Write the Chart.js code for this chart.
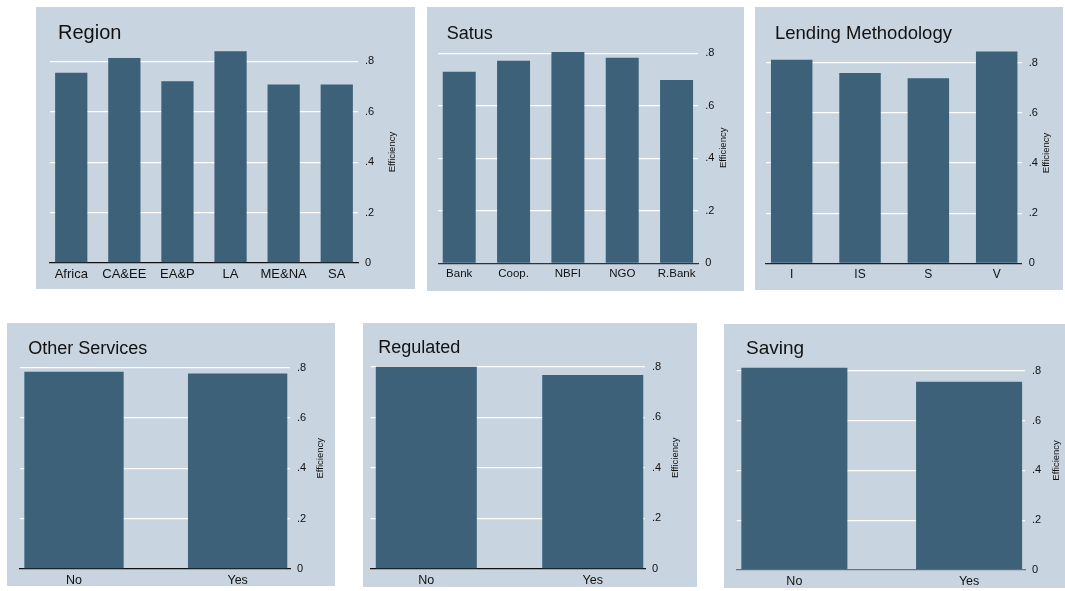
<!DOCTYPE html>
<html>
<head>
<meta charset="utf-8">
<script src="https://cdn.jsdelivr.net/npm/chart.js@4.4.1/dist/chart.umd.min.js"></script>
<style>
  html, body { margin: 0; padding: 0; background: #ffffff; }
  body { width: 1065px; height: 591px; position: relative; overflow: hidden; }
  canvas { position: absolute; background: #c8d4e0; }
</style>
</head>
<body>
<canvas id="c1"></canvas>
<canvas id="c2"></canvas>
<canvas id="c3"></canvas>
<canvas id="c4"></canvas>
<canvas id="c5"></canvas>
<canvas id="c6"></canvas>
<script>
// ---------------- DATA ----------------
const regionCats = ['Africa', 'CA&EE', 'EA&P', 'LA', 'ME&NA', 'SA'];
const regionVals = [0.755, 0.813, 0.721, 0.840, 0.708, 0.708];

const statusCats = ['Bank', 'Coop.', 'NBFI', 'NGO', 'R.Bank'];
const statusVals = [0.730, 0.772, 0.805, 0.783, 0.698];

const lendingCats = ['I', 'IS', 'S', 'V'];
const lendingVals = [0.812, 0.759, 0.738, 0.845];

const otherCats = ['No', 'Yes'];
const otherVals = [0.784, 0.777];

const regulatedCats = ['No', 'Yes'];
const regulatedVals = [0.800, 0.767];

const savingCats = ['No', 'Yes'];
const savingVals = [0.812, 0.756];

const yTickValues = [0, 0.2, 0.4, 0.6, 0.8];
const yTickLabels = ['0', '.2', '.4', '.6', '.8'];
const yAxisTitle = 'Efficiency';

// ---------------- STYLE / LAYOUT ----------------
const BAR = '#3d6179';
const FONT = "'Liberation Sans', Arial, sans-serif";
const YMAX = 0.88;

const panels = [
  { id: 'c1', title: 'Region', cats: regionCats, vals: regionVals,
    box: { x: 36, y: 7, w: 379, h: 282 }, plot: { l: 50, r: 358, base: 263, y08: 61.3 },
    xr: [-0.4, 5.4], titlePos: [58, 39], titleSize: 20, xFont: 13, effX: 392, base: '#111' },
  { id: 'c2', title: 'Satus', cats: statusCats, vals: statusVals,
    box: { x: 427, y: 7, w: 317, h: 284 }, plot: { l: 438.3, r: 698.3, base: 263.3, y08: 53.3 },
    xr: [-0.385, 4.4], titlePos: [446.7, 39], titleSize: 18, xFont: 11.5, effX: 723, base: '#333' },
  { id: 'c3', title: 'Lending Methodology', cats: lendingCats, vals: lendingVals,
    box: { x: 755, y: 7, w: 308, h: 283 }, plot: { l: 766, r: 1021.7, base: 263.3, y08: 62.7 },
    xr: [-0.376, 3.366], titlePos: [775, 38.5], titleSize: 18.5, xFont: 12, effX: 1046.7, base: '#222' },
  { id: 'c4', title: 'Other Services', cats: otherCats, vals: otherVals,
    box: { x: 7, y: 323, w: 328, h: 263 }, plot: { l: 20, r: 290, base: 569, y08: 367.7 },
    xr: [-0.33, 1.32], titlePos: [28.3, 354], titleSize: 18, xFont: 12.5, effX: 320, base: '#111' },
  { id: 'c5', title: 'Regulated', cats: regulatedCats, vals: regulatedVals,
    box: { x: 363, y: 323, w: 334, h: 264 }, plot: { l: 370.7, r: 645, base: 569, y08: 366.7 },
    xr: [-0.334, 1.314], titlePos: [378.3, 353.3], titleSize: 18, xFont: 12.5, effX: 675, base: '#111' },
  { id: 'c6', title: 'Saving', cats: savingCats, vals: savingVals,
    box: { x: 724, y: 324, w: 341, h: 264 }, plot: { l: 736.7, r: 1025, base: 570, y08: 370.7 },
    xr: [-0.33, 1.32], titlePos: [746, 354.3], titleSize: 19, xFont: 12.5, effX: 1056.7, base: '#6b757c' }
];

const panelTextPlugin = {
  id: 'panelText',
  afterDraw(chart, args, opts) {
    const ctx = chart.ctx;
    ctx.save();
    ctx.fillStyle = '#111';
    ctx.font = opts.titleSize + 'px ' + FONT;
    ctx.textAlign = 'left';
    ctx.textBaseline = 'alphabetic';
    ctx.fillText(opts.title, opts.titleX, opts.titleY);
    const ca = chart.chartArea;
    ctx.translate(opts.effX, (ca.top + ca.bottom) / 2);
    ctx.rotate(-Math.PI / 2);
    ctx.font = '9.5px ' + FONT;
    ctx.textAlign = 'center';
    ctx.textBaseline = 'middle';
    ctx.fillText(opts.axisTitle, 0, 0);
    ctx.restore();
  }
};

panels.forEach(p => {
  const cv = document.getElementById(p.id);
  cv.width = p.box.w; cv.height = p.box.h;
  cv.style.left = p.box.x + 'px'; cv.style.top = p.box.y + 'px';
  cv.style.width = p.box.w + 'px'; cv.style.height = p.box.h + 'px';
  const unit = (p.plot.base - p.plot.y08) / 0.8;
  const top = p.plot.base - YMAX * unit;
  new Chart(cv, {
    type: 'bar',
    data: {
      datasets: [{
        data: p.cats.map((c, i) => ({ x: i, y: p.vals[i] })),
        backgroundColor: BAR,
        borderWidth: 0,
        barPercentage: 0.607,
        categoryPercentage: 1
      }]
    },
    plugins: [panelTextPlugin],
    options: {
      responsive: false,
      animation: false,
      devicePixelRatio: 1,
      layout: { padding: { left: p.plot.l - p.box.x, top: top - p.box.y, right: 0, bottom: 0 } },
      plugins: {
        legend: { display: false },
        tooltip: { enabled: false },
        title: { display: false },
        panelText: {
          title: p.title, titleSize: p.titleSize,
          titleX: p.titlePos[0] - p.box.x, titleY: p.titlePos[1] - p.box.y,
          effX: p.effX - p.box.x, axisTitle: yAxisTitle
        }
      },
      scales: {
        x: {
          type: 'linear', min: p.xr[0], max: p.xr[1], offset: false,
          grid: { display: false, offset: false, drawTicks: false },
          border: { display: true, color: p.base, width: 1.3 },
          ticks: {
            autoSkip: false, maxRotation: 0, padding: 4, color: '#111',
            font: { family: FONT, size: p.xFont },
            callback: (v, i) => p.cats[i]
          },
          afterBuildTicks: a => { a.ticks = p.cats.map((c, i) => ({ value: i })); },
          afterFit: s => { s.height = p.box.y + p.box.h - p.plot.base; }
        },
        y: {
          position: 'right', min: 0, max: YMAX,
          grid: { color: c => (c.tick && c.tick.value === 0) ? 'rgba(0,0,0,0)' : '#ffffff', lineWidth: 1.3, drawTicks: false },
          border: { display: false },
          ticks: {
            padding: 7, color: '#111',
            font: { family: FONT, size: 11 },
            callback: (v, i) => yTickLabels[i]
          },
          afterBuildTicks: a => { a.ticks = yTickValues.map(v => ({ value: v })); },
          afterFit: s => { s.width = p.box.x + p.box.w - p.plot.r; }
        }
      }
    }
  });
});
</script>
</body>
</html>
